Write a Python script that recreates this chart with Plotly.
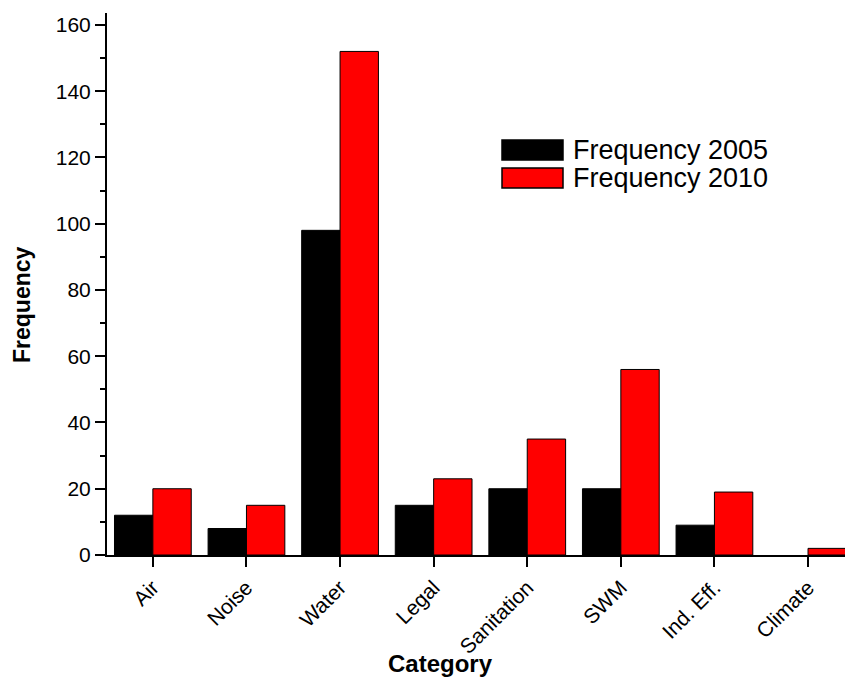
import plotly.graph_objects as go

categories = ["Air", "Noise", "Water", "Legal", "Sanitation", "SWM", "Ind. Eff.", "Climate"]
freq_2005 = [12, 8, 98, 15, 20, 20, 9, 0]
freq_2010 = [20, 15, 152, 23, 35, 56, 19, 2]
series_names = ["Frequency 2005", "Frequency 2010"]
series_colors = ["#000000", "#ff0000"]

W, H = 845, 679
L, R, T, B = 107, 0, 13, 124
PW, PH = W - L - R, H - T - B

def px_x(px):
    return (px - L) / PW

def px_y(py):
    return (H - B - py) / PH

FONT = "Liberation Sans, Arial, sans-serif"

fig = go.Figure()
for name, vals, col in zip(series_names, [freq_2005, freq_2010], series_colors):
    fig.add_trace(go.Bar(x=categories, y=vals, name=name,
                         marker=dict(color=col,
                                     line=dict(color="#000000",
                                               width=[1 if v > 0 else 0 for v in vals])),
                         showlegend=False))

fig.update_layout(
    width=W, height=H,
    margin=dict(l=L, r=R, t=T, b=B, autoexpand=False),
    paper_bgcolor="white", plot_bgcolor="white",
    barmode="group", bargap=0.18, bargroupgap=0,
    font=dict(family=FONT, color="#000000"),
    xaxis=dict(range=[-0.49, 7.395], showline=True, linecolor="#000", linewidth=2,
               ticks="outside", ticklen=10, tickwidth=2, tickcolor="#000",
               tickangle=-45, tickfont=dict(size=21, family=FONT), showgrid=False),
    yaxis=dict(range=[0, 163.6], showline=True, linecolor="#000", linewidth=2,
               ticks="outside", ticklen=10, tickwidth=2, tickcolor="#000",
               tick0=0, dtick=20, tickfont=dict(size=21, family=FONT),
               minor=dict(ticks="outside", ticklen=5, tickwidth=2, tickcolor="#000", dtick=10),
               showgrid=False, zeroline=False),
)

# axis titles
fig.add_annotation(text="<b>Category</b>", xref="paper", yref="paper",
                   x=px_x(440), y=px_y(663), showarrow=False,
                   font=dict(size=24, family=FONT), xanchor="center", yanchor="middle")
fig.add_annotation(text="<b>Frequency</b>", xref="paper", yref="paper",
                   x=px_x(22), y=px_y(305), showarrow=False, textangle=-90,
                   font=dict(size=23, family=FONT), xanchor="center", yanchor="middle")

# legend
leg_tops = [140, 168]
for name, col, top in zip(series_names, series_colors, leg_tops):
    fig.add_shape(type="rect", xref="paper", yref="paper",
                  x0=px_x(502), x1=px_x(563), y0=px_y(top), y1=px_y(top + 20),
                  fillcolor=col, line=dict(color="#000", width=1.5))
    fig.add_annotation(text=name, xref="paper", yref="paper",
                       x=px_x(571), y=px_y(top + 10), showarrow=False,
                       xanchor="left", yanchor="middle",
                       font=dict(size=27, family=FONT))

fig.write_html("out.html")
